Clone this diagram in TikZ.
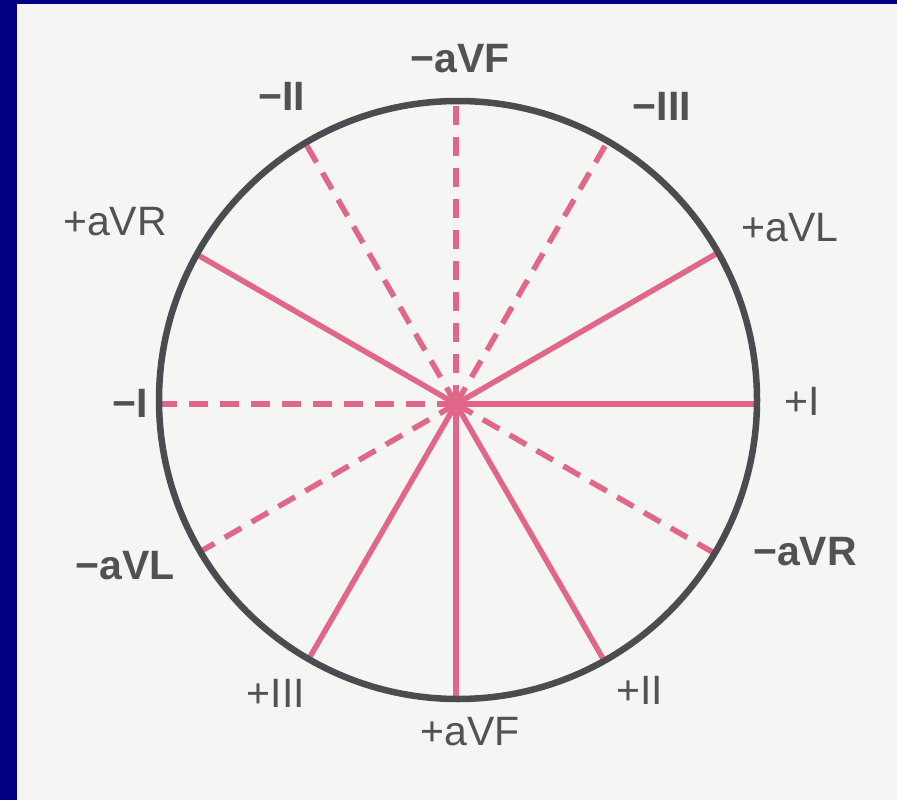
\documentclass[tikz,border=0pt]{standalone}
\usepackage{fontspec}
\setmainfont{Liberation Sans}
\definecolor{navy}{HTML}{000080}
\definecolor{paper}{HTML}{F5F5F3}
\definecolor{ring}{HTML}{4A4C4F}
\definecolor{spoke}{HTML}{E0668A}
\definecolor{lbl}{HTML}{505254}
\tikzset{
  possign/.style={text=lbl, font=\fontsize{41}{44}\selectfont, inner sep=0pt},
  negsign/.style={text=lbl, font=\fontsize{41}{44}\selectfont\bfseries, inner sep=0pt},
  solidspoke/.style={draw=spoke, line width=5.5pt},
  dashspoke/.style={draw=spoke, line width=5.5pt, dash pattern=on 19pt off 12pt},
  ringline/.style={draw=ring, line width=6.5pt}
}
\begin{document}
\begin{tikzpicture}[x=1pt,y=-1pt]
\useasboundingbox (0,0) rectangle (897,800);
\fill[navy] (0,0) rectangle (897,800);
\fill[paper] (17,4) rectangle (897,800);
\coordinate (C) at (458,400);
\coordinate (O) at (456,404);
\begin{scope}
  \clip (C) circle (299);
  \draw[solidspoke] (O) -- ++(0:420);
  \draw[solidspoke] (O) -- ++(-30:420);
  \draw[solidspoke] (O) -- ++(-150:420);
  \draw[solidspoke] (O) -- ++(60:420);
  \draw[solidspoke] (O) -- ++(90:420);
  \draw[solidspoke] (O) -- ++(120:420);
  \draw[dashspoke] (O) -- ++(180:420);
  \draw[dashspoke] (O) -- ++(150:420);
  \draw[dashspoke] (O) -- ++(30:420);
  \draw[dashspoke] (O) -- ++(-120:420);
  \draw[dashspoke] (O) -- ++(-90:420);
  \draw[dashspoke] (O) -- ++(-60:420);
\end{scope}
\fill[spoke] (O) circle (9);
\draw[ringline] (C) circle (299);
\node[negsign] (maVF) at (460,59) {−aVF};
\node[negsign] (mII) at (282,96) {−II};
\node[negsign] (mIII) at (662,106) {−III};
\node[possign] (pAVR) at (115,222) {+aVR};
\node[possign] (pAVL) at (790,228) {+aVL};
\node[negsign] (mI) at (130,403) {−I};
\node[possign] (pI) at (802,401) {+I};
\node[negsign] (maVL) at (125,566) {−aVL};
\node[negsign] (maVR) at (805,552) {−aVR};
\node[possign] (pIII) at (276,693) {+III};
\node[possign] (pII) at (640,690) {+II};
\node[possign] (pAVF) at (470,732) {+aVF};
\end{tikzpicture}
\end{document}
